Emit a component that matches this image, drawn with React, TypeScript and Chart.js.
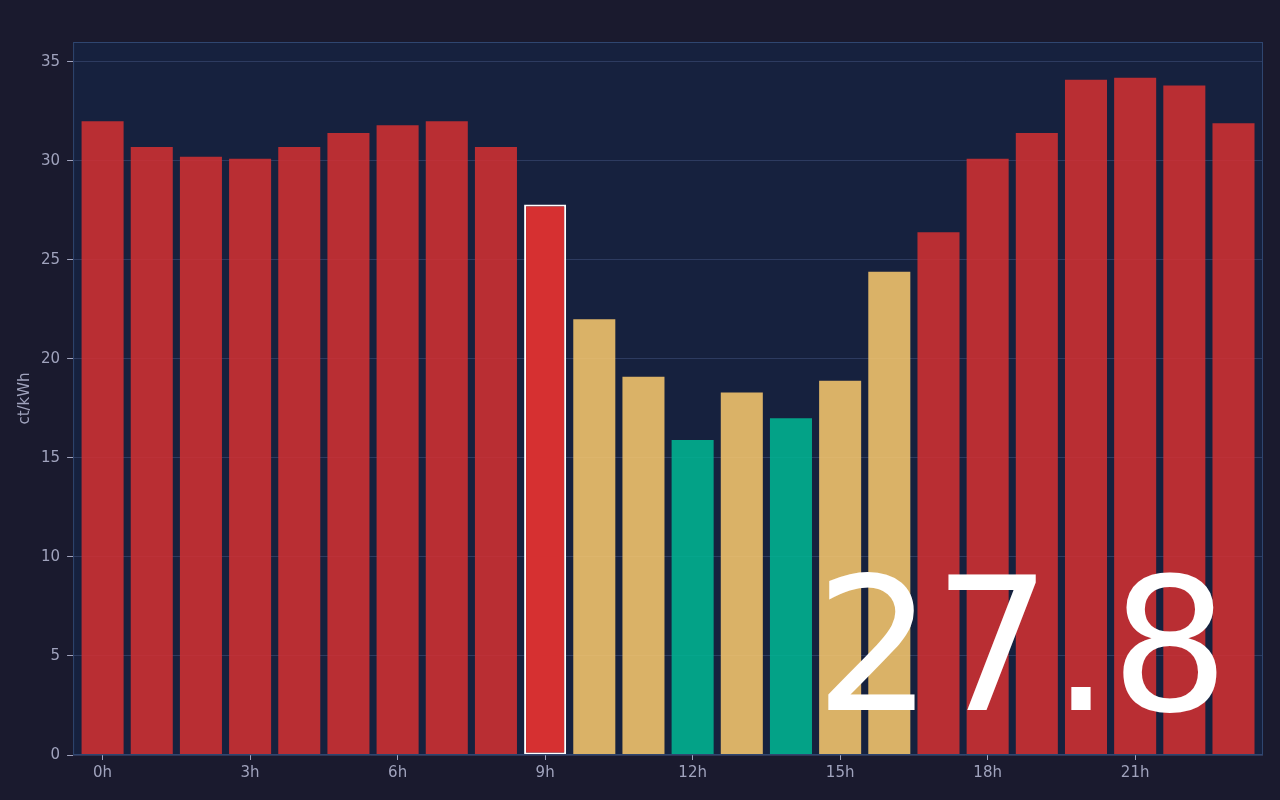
import React, { useRef, useEffect } from 'react';
import { Chart, registerables } from 'chart.js';

Chart.register(...registerables);

// hour of day (x) and price in ct/kWh (y)
const hours: number[] = [
    0, 1, 2, 3, 4, 5, 6, 7, 8, 9, 10, 11,
    12, 13, 14, 15, 16, 17, 18, 19, 20, 21, 22, 23,
];
const prices: number[] = [
    32.0, 30.7, 30.2, 30.1, 30.7, 31.4, 31.8, 32.0, 30.7, 27.8, 22.0, 19.1,
    15.9, 18.3, 17.0, 18.9, 24.4, 26.4, 30.1, 31.4, 34.1, 34.2, 33.8, 31.9,
];
const currentHour = 9;
const xTicks: number[] = [0, 3, 6, 9, 12, 15, 18, 21];
const yTicks: number[] = [0, 5, 10, 15, 20, 25, 30, 35];

const barColor = (v: number, alpha: number) => {
    if (v < 18) return `rgba(0,184,148,${alpha})`;
    if (v < 25) return `rgba(253,203,110,${alpha})`;
    return `rgba(214,48,49,${alpha})`;
};

const plotFrame = {
    id: 'plotFrame',
    beforeDraw(chart: Chart) {
        const { ctx, chartArea } = chart;
        ctx.save();
        ctx.fillStyle = '#16213e';
        ctx.fillRect(chartArea.left, chartArea.top, chartArea.width, chartArea.height);
        ctx.restore();
    },
    afterDraw(chart: Chart) {
        const { ctx, chartArea } = chart;
        ctx.save();
        ctx.strokeStyle = '#2f4670';
        ctx.lineWidth = 1;
        ctx.strokeRect(chartArea.left + 0.5, chartArea.top + 0.5, chartArea.width - 1, chartArea.height - 1);
        ctx.restore();
    },
};

const PriceChart: React.FC = () => {
    const chartRef = useRef<HTMLCanvasElement | null>(null);

    useEffect(() => {
        if (!chartRef.current) return;
        Chart.defaults.font.family = "'DejaVu Sans', sans-serif";
        Chart.defaults.font.size = 15;
        Chart.defaults.color = '#a0a3bd';

        const chartInstance = new Chart(chartRef.current, {
            type: 'bar',
            data: {
                datasets: [{
                    label: 'ct/kWh',
                    data: hours.map((h, i) => ({ x: h, y: prices[i] })),
                    backgroundColor: prices.map((v, i) => barColor(v, i === currentHour ? 1 : 0.85)),
                    borderColor: prices.map((_, i) => (i === currentHour ? '#ffffff' : 'rgba(0,0,0,0)')),
                    borderWidth: prices.map((_, i) => (i === currentHour ? 2 : 0)),
                    borderSkipped: false,
                    categoryPercentage: 1,
                    barPercentage: 0.855,
                }],
            },
            options: {
                animation: false,
                responsive: true,
                maintainAspectRatio: false,
                layout: { padding: { top: 42, right: 17, bottom: 14, left: 12 } },
                plugins: {
                    legend: { display: false },
                    tooltip: { enabled: false },
                },
                scales: {
                    x: {
                        type: 'linear',
                        offset: false,
                        min: -0.6,
                        max: 23.6,
                        afterBuildTicks: (scale: any) => {
                            scale.ticks = xTicks.map((value) => ({ value }));
                        },
                        grid: { display: true, offset: false, drawOnChartArea: false, tickLength: 5, tickColor: '#a0a3bd' },
                        border: { display: false },
                        ticks: { maxRotation: 0, autoSkip: false, padding: 4, callback: (v: any) => `${v}h` },
                    },
                    y: {
                        min: 0,
                        max: 36,
                        afterBuildTicks: (scale: any) => {
                            scale.ticks = yTicks.map((value) => ({ value }));
                        },
                        grid: { color: 'rgba(90,110,160,0.35)', tickLength: 6, tickColor: '#a0a3bd' },
                        border: { display: false },
                        ticks: { padding: 7 },
                        title: { display: true, text: 'ct/kWh', color: '#a0a3bd', padding: { top: 4, bottom: 0 } },
                    },
                },
            },
            plugins: [plotFrame],
        });

        return () => {
            chartInstance.destroy();
        };
    }, []);

    return <canvas ref={chartRef}></canvas>;
};

const App: React.FC = () => {
    return (
        <div style={{ position: 'fixed', left: 0, top: 0, width: 1280, height: 800, background: '#1a1a2e', overflow: 'hidden' }}>
            <div style={{ position: 'absolute', inset: 0 }}>
                <PriceChart />
            </div>
            <div
                style={{
                    position: 'absolute',
                    right: 51,
                    top: 553,
                    fontFamily: "'DejaVu Sans', sans-serif",
                    fontSize: 186,
                    lineHeight: 1,
                    color: '#ffffff',
                    pointerEvents: 'none',
                }}
            >
                {prices[currentHour].toFixed(1)}
            </div>
        </div>
    );
};

export default App;
